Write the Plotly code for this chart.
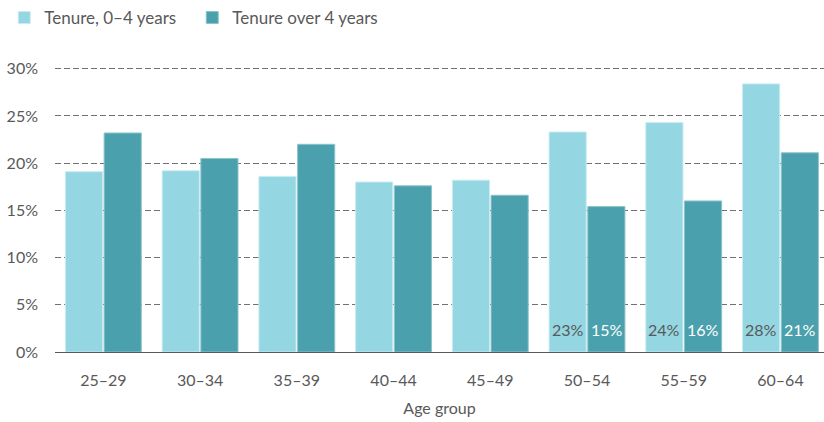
import plotly.graph_objects as go

categories = ["25–29", "30–34", "35–39", "40–44", "45–49", "50–54", "55–59", "60–64"]
short_tenure = [19.1, 19.2, 18.6, 18.0, 18.2, 23.3, 24.3, 28.4]
long_tenure = [23.2, 20.5, 22.0, 17.6, 16.6, 15.4, 16.0, 21.1]
labelled_groups = ["50–54", "55–59", "60–64"]
y_ticks = [0, 5, 10, 15, 20, 25, 30]
y_tick_text = [f"{v}%" for v in y_ticks]

LIGHT = "#94D6E2"
DARK = "#4AA0AC"
GREY = "#595959"
FONT = "Lato"

fig = go.Figure()
fig.add_trace(go.Bar(
    name="Tenure, 0–4 years", x=categories, y=short_tenure,
    marker=dict(color=LIGHT, line=dict(color="#C8ECF2", width=1)),
    hoverinfo="skip",
))
fig.add_trace(go.Bar(
    name="Tenure over 4 years", x=categories, y=long_tenure,
    marker=dict(color=DARK, line=dict(color="#8CC4CC", width=1)),
    hoverinfo="skip",
))

# value labels at the foot of the bars for the last three groups
for cat, s, l in zip(categories, short_tenure, long_tenure):
    if cat not in labelled_groups:
        continue
    for val, shift, col in ((s, -19.5, GREY), (l, 19.5, "white")):
        fig.add_annotation(
            x=cat, y=0, xref="x", yref="y", text=f"{round(val)}%",
            showarrow=False, xshift=shift, yshift=23, yanchor="middle",
            font=dict(family=FONT, size=16, color=col),
        )

fig.update_layout(
    width=824, height=422,
    margin=dict(l=55, r=0, t=63, b=70),
    barmode="group", bargap=0.2, bargroupgap=0.04,
    plot_bgcolor="white", paper_bgcolor="white",
    font=dict(family=FONT, size=16, color=GREY),
    legend=dict(
        orientation="h", xref="paper", yref="paper",
        x=-0.066, y=1.228, xanchor="left", yanchor="top",
        font=dict(size=17, color=GREY, family=FONT),
        itemwidth=30, traceorder="normal", entrywidth=143,
    ),
    xaxis=dict(
        range=[-0.5, 7.45],
        showline=True, linecolor=GREY, linewidth=1,
        ticks="", tickfont=dict(size=16, color=GREY), ticklabelstandoff=14,
        title=dict(text="Age group", font=dict(size=16, color=GREY), standoff=14),
    ),
    yaxis=dict(
        range=[0, 30.4], tickvals=y_ticks, ticktext=y_tick_text,
        showgrid=True, gridcolor="#707070", gridwidth=1, griddash="6px,3px",
        zeroline=True, zerolinecolor=GREY, zerolinewidth=1,
        tickfont=dict(size=16, color=GREY), ticklabelstandoff=16,
    ),
)

fig.write_html("out.html")
